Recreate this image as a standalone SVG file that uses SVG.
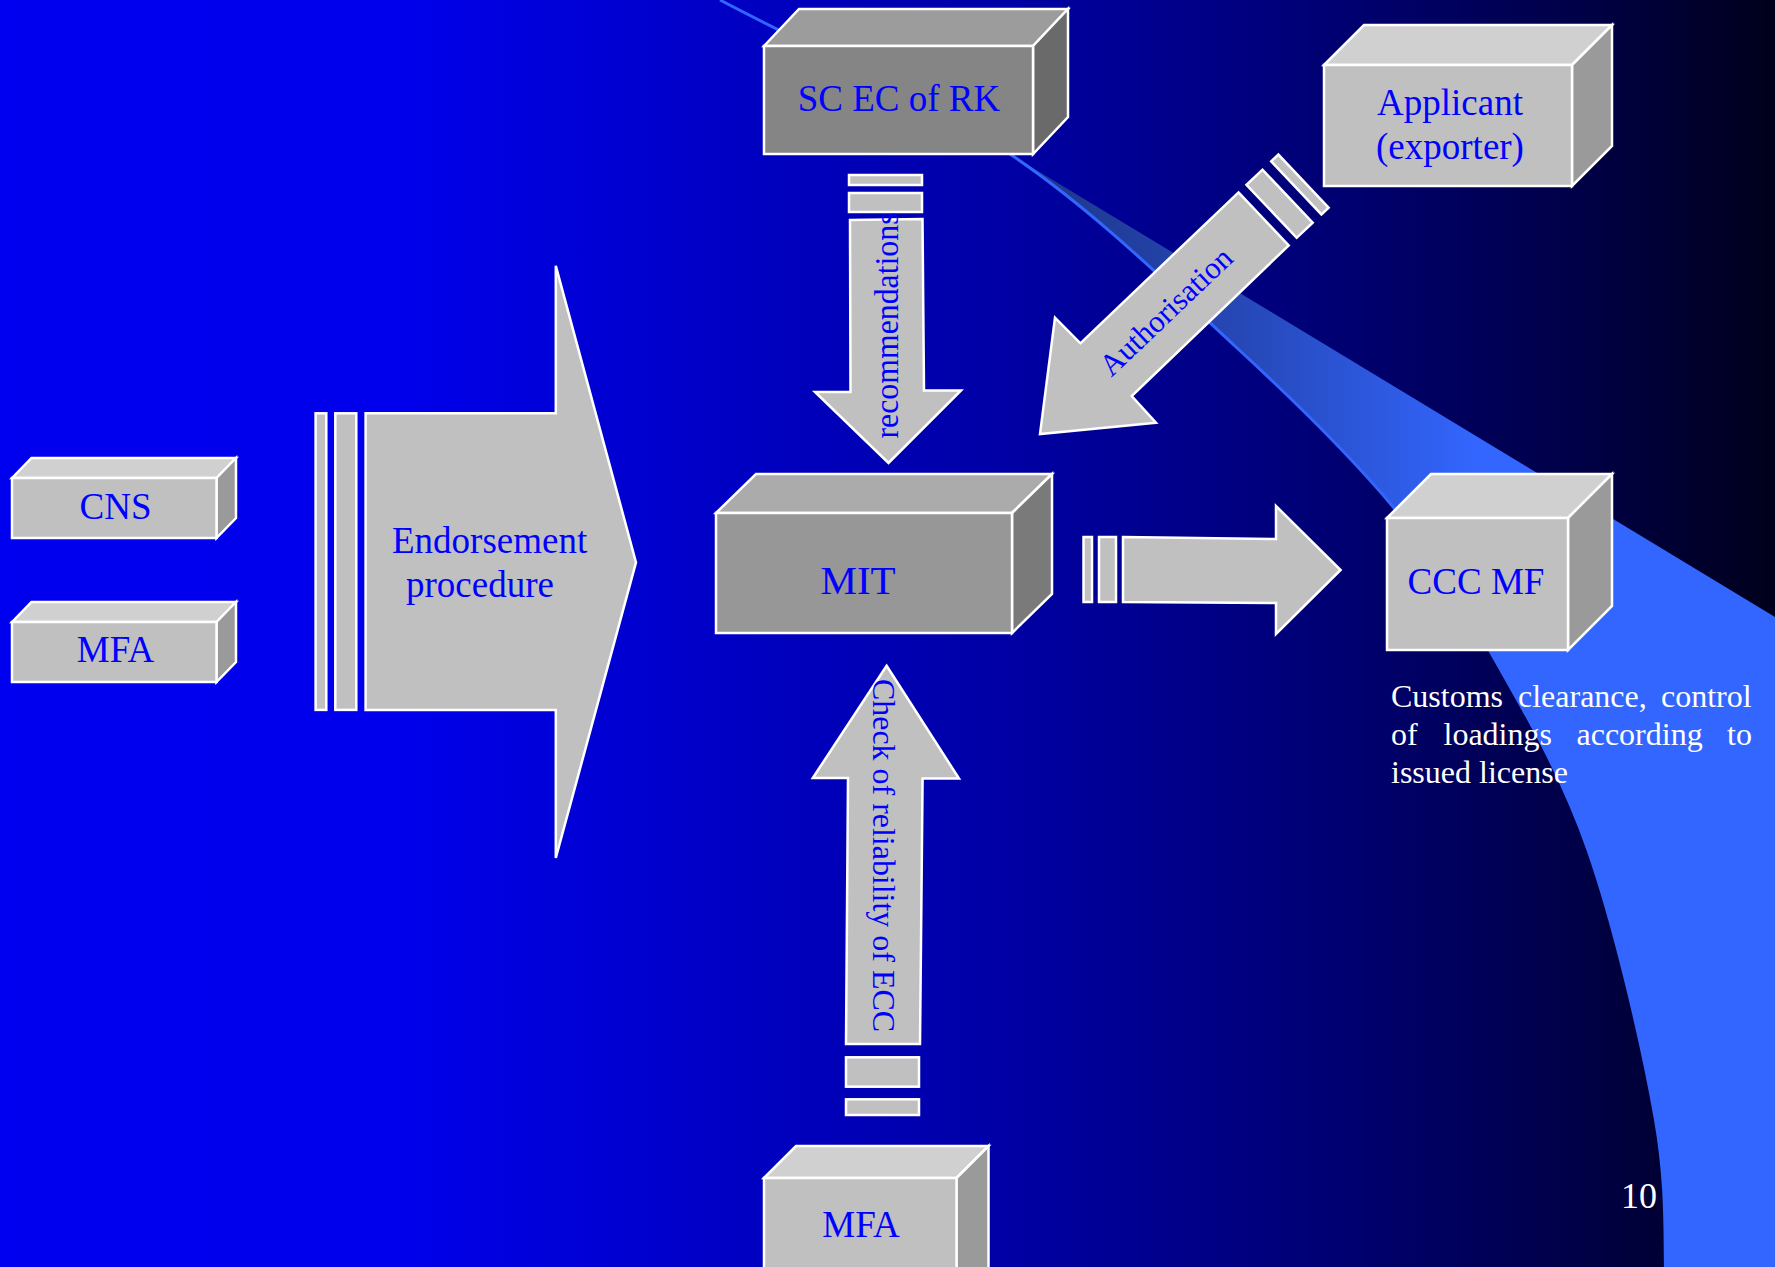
<svg xmlns="http://www.w3.org/2000/svg" width="1775" height="1267" viewBox="0 0 1775 1267">
  <defs>
    <linearGradient id="bg" x1="0" y1="0" x2="1775" y2="0" gradientUnits="userSpaceOnUse">
      <stop offset="0" stop-color="#0000F0"/>
      <stop offset="0.225" stop-color="#0000EC"/>
      <stop offset="0.394" stop-color="#0000C8"/>
      <stop offset="0.563" stop-color="#0000A6"/>
      <stop offset="0.761" stop-color="#000070"/>
      <stop offset="0.887" stop-color="#000048"/>
      <stop offset="1" stop-color="#00001C"/>
    </linearGradient>
    <linearGradient id="wedge" x1="1010" y1="0" x2="1480" y2="0" gradientUnits="userSpaceOnUse">
      <stop offset="0" stop-color="#1C3585"/>
      <stop offset="0.5" stop-color="#2648B8"/>
      <stop offset="1" stop-color="#3366FF"/>
    </linearGradient>
    <style>
      .face { stroke: #FFFFFF; stroke-width: 2.5; stroke-linejoin: miter; }
      .lf { fill: #C0C0C0; }
      .lt { fill: #D0D0D0; }
      .lr { fill: #9A9A9A; }
      .df { fill: #858585; }
      .dt { fill: #9C9C9C; }
      .dr { fill: #6A6A6A; }
      .mf { fill: #979797; }
      .mt { fill: #ABABAB; }
      .mr { fill: #7A7A7A; }
      .arrow { fill: #C0C0C0; stroke: #FFFFFF; stroke-width: 2.5; stroke-linejoin: miter; }
      .lbl { font-family: "Liberation Serif", "Times New Roman", serif; fill: #0000FF; font-size: 37px; }
      .wtxt { font-family: "Liberation Serif", "Times New Roman", serif; fill: #FFFFFF; font-size: 32px; }
    </style>
  </defs>

  <!-- background -->
  <rect x="0" y="0" width="1775" height="1267" fill="url(#bg)"/>

  <!-- swoosh -->
  <g id="swoosh">
    <path d="M1010,154 C1096,211.8 1172,288 1236,347 C1300,406 1351,456.2 1394,508 C1437,559.8 1461.7,601 1494,658 C1526.3,715 1561.2,773.5 1588,850 C1614.8,926.5 1642,1043.7 1655,1117 C1668,1190 1664,1240 1666,1290 L1780,1290 L1780,620 Z" fill="url(#wedge)"/>
    <path d="M720,0 C816.7,51.3 924,96.2 1010,154 C1096,211.8 1172,288 1236,347 C1300,406 1351,456.2 1394,508 C1437,559.8 1461.7,601 1494,658 C1526.3,715 1561.2,773.5 1588,850 C1614.8,926.5 1642,1043.7 1655,1117 C1668,1190 1664,1240 1666,1290" fill="none" stroke="#3366FF" stroke-width="3"/>
  </g>

  <!-- connectors -->
  <g id="connectors">
    <g id="endorsement-arrow">
      <rect class="arrow" x="315.6" y="413.3" width="10.7" height="296.6"/>
      <rect class="arrow" x="335.3" y="413.3" width="21" height="296.6"/>
      <path class="arrow" d="M365.6,413.3 L555.8,413.3 L555.8,265.8 L636,562.4 L555.8,858 L555.8,709.9 L365.6,709.9 Z"/>
      <text class="lbl" x="392" y="552.5">Endorsement</text>
      <text class="lbl" x="406" y="596.8">procedure</text>
    </g>
    <g id="recommendations-arrow">
      <rect class="arrow" x="849" y="175" width="73" height="10"/>
      <rect class="arrow" x="849" y="193" width="73" height="19"/>
      <path class="arrow" d="M850,220 L922.5,219 L924,390.5 L961,390.5 L888.5,463 L815,392 L850.5,392 Z"/>
      <text class="lbl" transform="translate(898,438.5) rotate(-90)" x="0" y="0" textLength="226" lengthAdjust="spacingAndGlyphs" style="font-size:33px">recommendations</text>
    </g>
    <g id="authorisation-arrow">
      <polygon class="arrow" points="1271.2,161.4 1321.4,214.4 1328.6,207.6 1278.4,154.6"/>
      <polygon class="arrow" points="1246.5,184.8 1296.7,237.8 1312.7,222.7 1262.5,169.7"/>
      <path class="arrow" d="M1238.5,192.4 L1288.7,245.4 L1131.7,396 L1156,422.7 L1040,434 L1055,317.7 L1080.4,343.3 Z"/>
      <text class="lbl" transform="translate(1173,319) rotate(-43.6)" x="0" y="0" text-anchor="middle" style="font-size:31px">Authorisation</text>
    </g>
    <g id="mit-to-ccc-arrow">
      <rect class="arrow" x="1083.5" y="537" width="8.5" height="65"/>
      <rect class="arrow" x="1099" y="537" width="17" height="65"/>
      <path class="arrow" d="M1123,537 L1276,539 L1276,506 L1340.6,570 L1276,634 L1276,603 L1123,602 Z"/>
    </g>
    <g id="ecc-arrow">
      <path class="arrow" d="M886.6,665.7 L959,778.5 L922.6,778.5 L920,1044 L846,1044 L848,778 L812.8,778 Z"/>
      <rect class="arrow" x="846" y="1057.3" width="73" height="29.4"/>
      <rect class="arrow" x="846" y="1099.3" width="73" height="15.7"/>
      <text class="lbl" transform="translate(873,679) rotate(90)" x="0" y="0" textLength="353" lengthAdjust="spacingAndGlyphs" style="font-size:32px">Check of reliability of ECC</text>
    </g>
  </g>

  <!-- nodes -->
  <g id="node-scec">
    <polygon class="face dt" points="764,46 799,9 1068,9 1033,46"/>
    <polygon class="face dr" points="1033,46 1068,9 1068,117 1033,154"/>
    <rect class="face df" x="764" y="46" width="269" height="108"/>
    <text class="lbl" x="899" y="110.7" text-anchor="middle">SC EC of RK</text>
  </g>

  <g id="node-applicant">
    <polygon class="face lt" points="1324,65 1364,25 1612,25 1572,65"/>
    <polygon class="face lr" points="1572,65 1612,25 1612,146 1572,186"/>
    <rect class="face lf" x="1324" y="65" width="248" height="121"/>
    <text class="lbl" x="1450" y="115" text-anchor="middle">Applicant</text>
    <text class="lbl" x="1450" y="159" text-anchor="middle">(exporter)</text>
  </g>

  <g id="node-mit">
    <polygon class="face mt" points="716,513 756,474 1052,474 1012,513"/>
    <polygon class="face mr" points="1012,513 1052,474 1052,594 1012,633"/>
    <rect class="face mf" x="716" y="513" width="296" height="120"/>
    <text class="lbl" x="858" y="594" text-anchor="middle" style="font-size:41px">MIT</text>
  </g>

  <g id="node-cccmf">
    <polygon class="face lt" points="1387,518 1431,474 1612,474 1568,518"/>
    <polygon class="face lr" points="1568,518 1612,474 1612,606 1568,650"/>
    <rect class="face lf" x="1387" y="518" width="181" height="132"/>
    <text class="lbl" x="1476" y="594" text-anchor="middle">CCC MF</text>
  </g>

  <g id="note-customs">
    <text class="wtxt" y="707"><tspan x="1391">Customs</tspan><tspan x="1518">clearance,</tspan><tspan x="1661">control</tspan></text>
    <text class="wtxt" y="745"><tspan x="1391">of</tspan><tspan x="1443.5">loadings</tspan><tspan x="1576.5">according</tspan><tspan x="1727">to</tspan></text>
    <text class="wtxt" x="1391" y="783">issued license</text>
  </g>

  <g id="node-cns">
    <polygon class="face lt" points="12,478 31.5,458 236,458 216.5,478"/>
    <polygon class="face lr" points="216.5,478 236,458 236,518 216.5,538"/>
    <rect class="face lf" x="12" y="478" width="204.5" height="60"/>
    <text class="lbl" x="115.5" y="519" text-anchor="middle">CNS</text>
  </g>

  <g id="node-mfa-left">
    <polygon class="face lt" points="12,622 31.5,602 236,602 216.5,622"/>
    <polygon class="face lr" points="216.5,622 236,602 236,662 216.5,682"/>
    <rect class="face lf" x="12" y="622" width="204.5" height="60"/>
    <text class="lbl" x="115.5" y="662.4" text-anchor="middle">MFA</text>
  </g>

  <g id="node-mfa-bottom">
    <polygon class="face lt" points="764,1178 796,1146 988.5,1146 956.5,1178"/>
    <polygon class="face lr" points="956.5,1178 988.5,1146 988.5,1300 956.5,1332"/>
    <rect class="face lf" x="764" y="1178" width="192.5" height="130"/>
    <text class="lbl" x="861" y="1237" text-anchor="middle">MFA</text>
  </g>

  <text id="page-number" x="1621" y="1208" style="font-family:'Liberation Serif','Times New Roman',serif;font-size:36px;fill:#FFFFFF">10</text>
</svg>
